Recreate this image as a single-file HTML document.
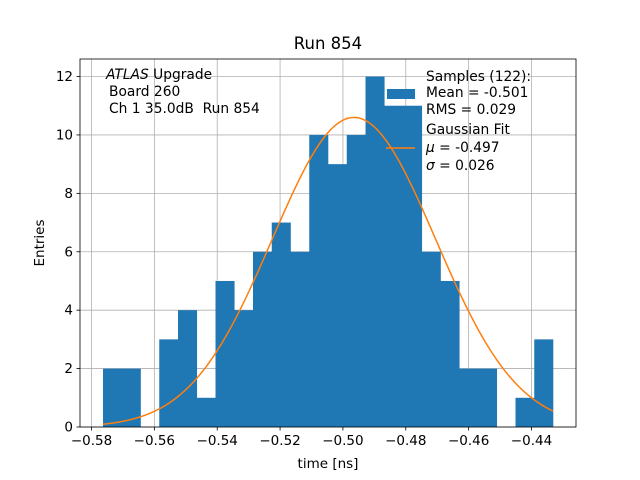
<!DOCTYPE html>
<html><head><meta charset="utf-8"><style>
body{margin:0;background:#fff}
svg{display:block;font-family:"DejaVu Sans","Liberation Sans",sans-serif}
</style></head><body>
<svg id="c" width="640" height="480" viewBox="0 0 640 480"></svg>
<script>
const binCounts=[2,2,0,3,4,1,5,4,6,7,6,10,9,10,12,11,11,6,5,2,2,0,1,3];
const binStart=-0.57634;
const binWidth=0.005966;
const xTicks=[-0.58,-0.56,-0.54,-0.52,-0.50,-0.48,-0.46,-0.44];
const xTickLabels=["−0.58","−0.56","−0.54","−0.52","−0.50","−0.48","−0.46","−0.44"];
const yTicks=[0,2,4,6,8,10,12];
const fitMu=-0.4965;
const fitSigma=0.026;
const fitAmp=10.6;

const L=80,R=576,T=59,B=427;
const xMin=-0.58366,xMax=-0.42584,yMin=0,yMax=12.6;
const sx=v=>L+(v-xMin)/(xMax-xMin)*(R-L);
const sy=v=>B-(v-yMin)/(yMax-yMin)*(B-T);
const svg=document.getElementById('c');
const NS='http://www.w3.org/2000/svg';
function mk(tag,attrs,parent){const e=document.createElementNS(NS,tag);for(const k in attrs)e.setAttribute(k,attrs[k]);(parent||svg).appendChild(e);return e;}

xTicks.forEach((t,i)=>{
 const g=mk('line',{x1:sx(t),x2:sx(t),y1:T,y2:B,stroke:'#b0b0b0','stroke-width':0.8});
 
 
});
yTicks.forEach(t=>{
 const g=mk('line',{x1:L,x2:R,y1:sy(t),y2:sy(t),stroke:'#b0b0b0','stroke-width':0.8});
 
 
});
binCounts.forEach((c,i)=>{
 if(c<=0)return;
 const x0=sx(binStart+i*binWidth),x1=sx(binStart+(i+1)*binWidth);
 const r=mk('rect',{x:x0,y:sy(c),width:x1-x0+0.3,height:sy(0)-sy(c),fill:'#1f77b4'});
 
 
});
let d='';const x0=binStart,x1=binStart+binCounts.length*binWidth;
for(let k=0;k<=200;k++){const x=x0+(x1-x0)*k/200;const y=fitAmp*Math.exp(-0.5*((x-fitMu)/fitSigma)**2);d+=(k?'L':'M')+sx(x).toFixed(2)+','+sy(y).toFixed(2);}
const fp=mk('path',{d:d,fill:'none',stroke:'#ff7f0e','stroke-width':1.5});


const fr=mk('rect',{x:L,y:T,width:R-L,height:B-T,fill:'none',stroke:'#000','stroke-width':0.8});


xTicks.forEach((t,i)=>{
 mk('line',{x1:sx(t),x2:sx(t),y1:B,y2:B+3.5,stroke:'#000','stroke-width':0.8});
 const tx=mk('text',{x:sx(t),y:B+18,'text-anchor':'middle','font-size':13.5});
 tx.textContent=xTickLabels[i];
 
 
});
yTicks.forEach(t=>{
 mk('line',{x1:L-3.5,x2:L,y1:sy(t),y2:sy(t),stroke:'#000','stroke-width':0.8});
 const tx=mk('text',{x:L-7,y:sy(t)+4.5,'text-anchor':'end','font-size':13.5});
 tx.textContent=t;
 
 
});
</script>
<div style="position:absolute;left:0;top:0;width:640px;height:480px;pointer-events:none">
<svg width="640" height="480" style="font-family:'DejaVu Sans','Liberation Sans',sans-serif">
<text x="328" y="49" text-anchor="middle" font-size="16.5">Run 854</text>
<text x="328" y="468" text-anchor="middle" font-size="13.5">time [ns]</text>
<text x="44" y="243" text-anchor="middle" font-size="13.5" transform="rotate(-90 44 243)">Entries</text>
<g font-size="13.8">
<text x="106" y="79"><tspan font-style="italic">ATLAS</tspan> Upgrade</text>
<text x="109" y="96">Board 260</text>
<text x="109" y="113">Ch 1 35.0dB&#160; Run 854</text>
</g>
<g font-size="13.8">
<rect x="387" y="89" width="28" height="10" fill="#1f77b4"/>
<text x="426" y="81">Samples (122):</text>
<text x="426" y="97">Mean = -0.501</text>
<text x="426" y="114">RMS = 0.029</text>
<line x1="386" x2="415" y1="148" y2="148" stroke="#ff7f0e" stroke-width="1.5"/>
<text x="426" y="134">Gaussian Fit</text>
<text x="426" y="152"><tspan font-style="italic">μ</tspan> = -0.497</text>
<text x="426" y="170"><tspan font-style="italic">σ</tspan> = 0.026</text>
</g>
</svg></div>
</body></html>
